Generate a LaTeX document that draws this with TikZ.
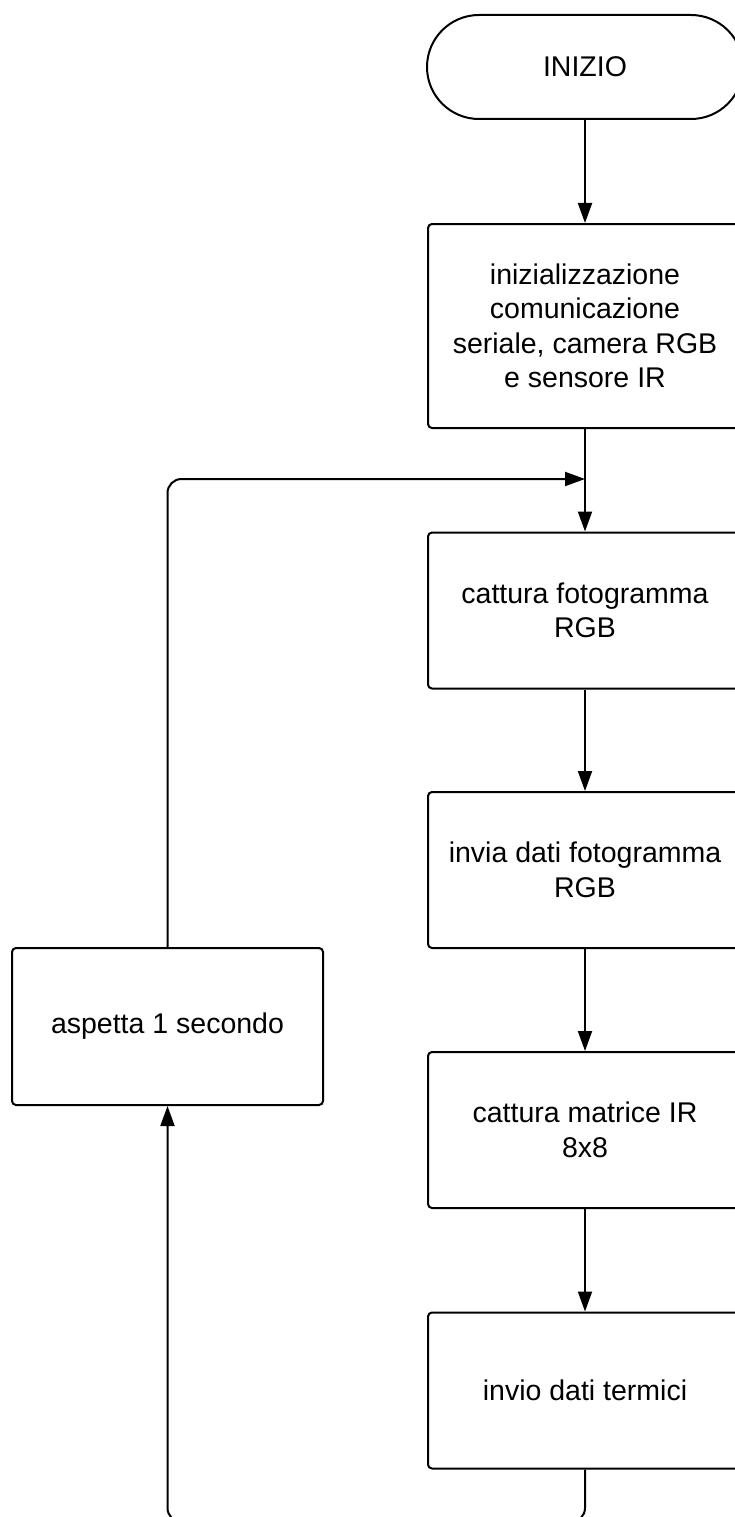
\documentclass[tikz,border=0pt]{standalone}
\usepackage{fontspec}
\setmainfont{Liberation Sans}
\usetikzlibrary{arrows.meta}

\begin{document}
\begin{tikzpicture}[
    x=1pt, y=-1pt,
    every node/.style={font=\fontsize{28.5}{34.5}\selectfont, align=center},
    terminal/.style={draw, line width=2pt, rounded corners=52pt,
        minimum width=316pt, minimum height=104pt},
    block/.style={draw, line width=2pt, rounded corners=4pt,
        minimum width=314pt, minimum height=156pt},
    flow/.style={line width=2pt, -{Triangle[length=20pt,width=14pt]}}]
    \useasboundingbox (0,0) rectangle (734,1517);
    \node[terminal] (inizio) at (585,67) {INIZIO};
    \node[block, minimum height=204pt] (init) at (585,326)
        {inizializzazione\\comunicazione\\seriale, camera RGB\\e sensore IR};
    \node[block] (cattura) at (585,610.5) {cattura fotogramma\\RGB};
    \node[block] (invia) at (585,870) {invia dati fotogramma\\RGB};
    \node[block] (matrice) at (585,1130) {cattura matrice IR\\8x8};
    \node[block] (termici) at (585,1390.5) {invio dati termici};
    \node[block, minimum width=311pt, minimum height=157pt] (attesa) at (167.5,1026.5)
        {aspetta 1 secondo};
    \coordinate (join) at (585,479);
    \coordinate (giu) at (585,1522);
    \draw[flow] (inizio) -- (init);
    \draw[flow] (init) -- (cattura);
    \draw[flow] (cattura) -- (invia);
    \draw[flow] (invia) -- (matrice);
    \draw[flow] (matrice) -- (termici);
    \draw[flow, rounded corners=14pt] (termici.south) -- (giu) -| (attesa.south);
    \draw[flow, rounded corners=14pt] (attesa.north) |- (join);
\end{tikzpicture}
\end{document}
